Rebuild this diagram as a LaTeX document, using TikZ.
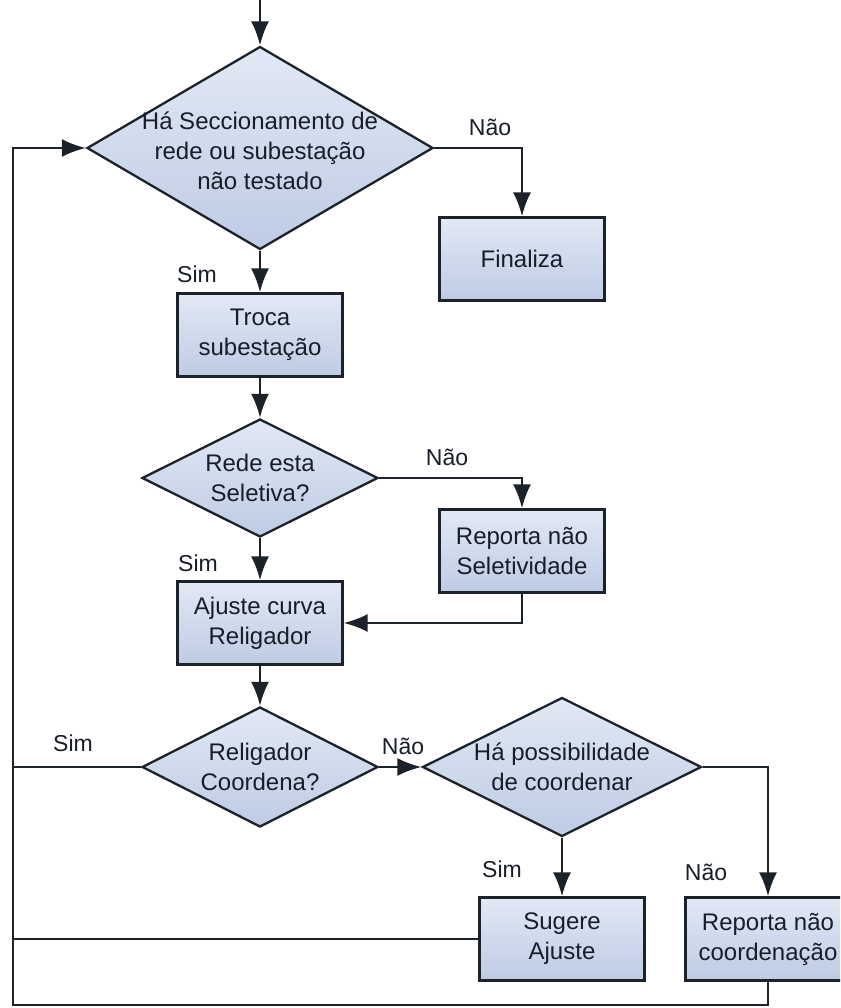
\documentclass[tikz,border=0pt]{standalone}
\usepackage{fontspec}
\setmainfont{Liberation Sans}
\usetikzlibrary{shapes.geometric,arrows.meta}
\definecolor{boxtop}{RGB}{226,233,245}
\definecolor{boxbot}{RGB}{190,203,228}
\definecolor{edge}{RGB}{28,34,42}
\definecolor{ink}{RGB}{24,30,40}
\tikzset{
  base/.style={draw=edge, line width=2.3pt, top color=boxtop, bottom color=boxbot},
  procbox/.style={base, rectangle, minimum width=165pt, minimum height=83pt, inner sep=0pt,
    align=center, text=ink, font=\fontsize{24}{30}\selectfont},
  decision/.style={base, diamond, inner sep=0pt},
  dtext/.style={align=center, text=ink, inner sep=0pt, font=\fontsize{24}{30}\selectfont},
  lbl/.style={text=ink, inner sep=0pt, font=\fontsize{23}{26}\selectfont},
  link/.style={draw=edge, line width=2.3pt},
  arr/.style={link, -{Latex[length=24pt,width=18pt]}},
}
\begin{document}
\begin{tikzpicture}[x=1pt,y=-1pt]
\clip (0,0) rectangle (840,1008);
\fill[white] (0,0) rectangle (840,1008);

% decisions
\node[decision, minimum width=346pt, minimum height=203pt] (d1) at (260,148) {};
\node[dtext] (d1t) at (260,151) {Há Seccionamento de\\rede ou subestação\\não testado};
\node[decision, minimum width=236pt, minimum height=118pt] (d2) at (260,478) {};
\node[dtext] (d2t) at (d2.center) {Rede esta\\Seletiva?};
\node[decision, minimum width=236pt, minimum height=120pt] (d3) at (260,767) {};
\node[dtext] (d3t) at (d3.center) {Religador\\Coordena?};
\node[decision, minimum width=279pt, minimum height=139pt] (d4) at (562,767) {};
\node[dtext] (d4t) at (d4.center) {Há possibilidade\\de coordenar};

% process boxes
\node[procbox] (fin) at (522,259) {Finaliza};
\node[procbox] (troca) at (260,335) {Troca\\subestação};
\node[procbox] (rep1) at (522,551) {Reporta não\\Seletividade};
\node[procbox] (ajuste) at (260,623) {Ajuste curva\\Religador};
\node[procbox] (sug) at (562,939) {Sugere\\Ajuste};
\node[procbox] (rep2) at (768,939) {Reporta não\\coordenação};

% free ends of the connectors
\coordinate (entry) at (260,0);
\coordinate (lsim) at (13,767);
\coordinate (lsug) at (13,939);
\coordinate (lbot) at (13,1005);
\coordinate (ltop) at (13,148);

% connectors
\draw[arr] (entry) -- (d1.north);
\draw[arr] (d1.east) -| (fin.north);
\draw[arr] (d1.south) -- (troca.north);
\draw[arr] (troca.south) -- (d2.north);
\draw[arr] (d2.east) -| (rep1.north);
\draw[arr] (d2.south) -- (ajuste.north);
\draw[arr] (rep1.south) |- (ajuste.east);
\draw[arr] (ajuste.south) -- (d3.north);
\draw[arr] (d3.east) -- (d4.west);
\draw[arr] (d4.south) -- (sug.north);
\draw[arr] (d4.east) -| (rep2.north);
\draw[link] (d3.west) -- (lsim);
\draw[link] (sug.west) -- (lsug);
\draw[arr] (rep2.south) |- (lbot) -- (ltop) -- (d1.west);

% branch labels
\node[lbl] (n1) at (490,127) {Não};
\node[lbl] (s1) at (197,274) {Sim};
\node[lbl] (n2) at (447,457) {Não};
\node[lbl] (s2) at (198,563) {Sim};
\node[lbl] (s3) at (73,743) {Sim};
\node[lbl] (n3) at (403,746) {Não};
\node[lbl] (s4) at (502,869) {Sim};
\node[lbl] (n4) at (706,872) {Não};
\end{tikzpicture}
\end{document}
